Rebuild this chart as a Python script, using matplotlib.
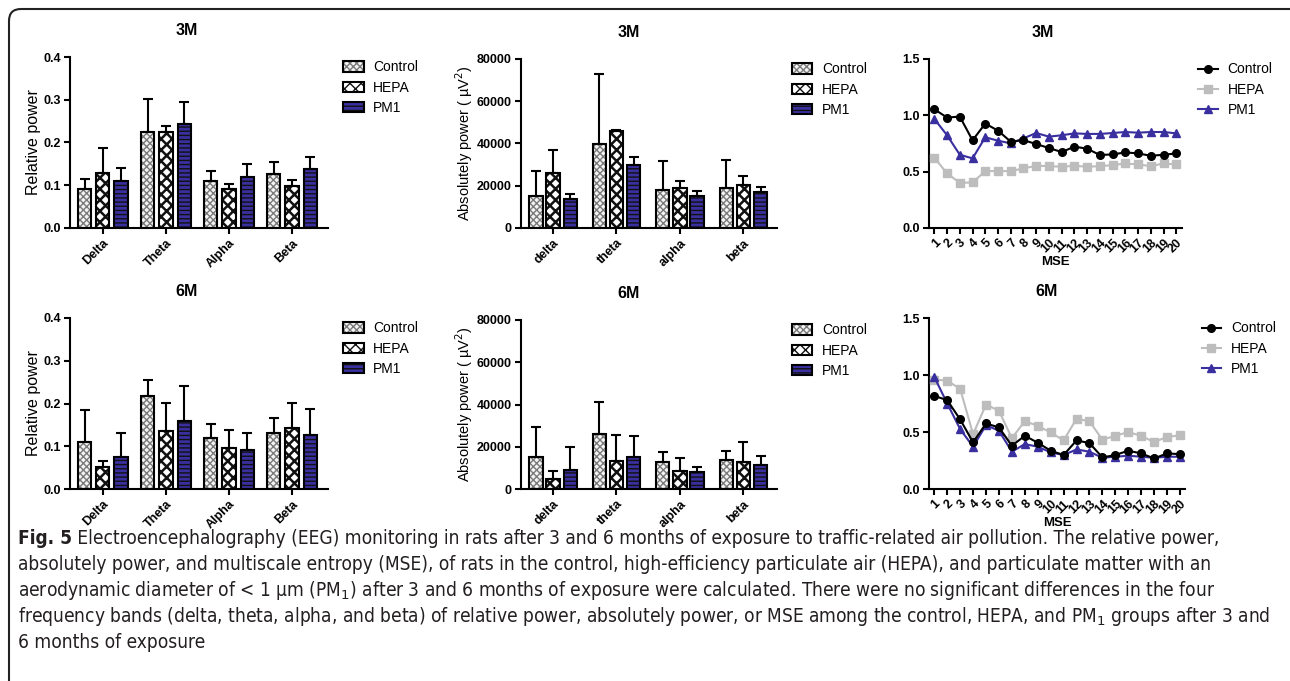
import numpy as np
import matplotlib
matplotlib.use("Agg")
import matplotlib.pyplot as plt
from matplotlib import font_manager as fm
from matplotlib.patches import FancyBboxPatch, Patch
from matplotlib.transforms import IdentityTransform

# ---- data ----
series = ["Control", "HEPA", "PM1"]
bands_rel = ["Delta", "Theta", "Alpha", "Beta"]
bands_abs = ["delta", "theta", "alpha", "beta"]
scales = np.arange(1, 21)

# relative power, 3 months (mean, upper error)
rel3_mean = [[0.091, 0.224, 0.110, 0.126],
             [0.128, 0.225, 0.092, 0.099],
             [0.111, 0.243, 0.120, 0.138]]
rel3_err = [[0.023, 0.077, 0.023, 0.028],
            [0.060, 0.014, 0.011, 0.014],
            [0.030, 0.052, 0.029, 0.029]]

# relative power, 6 months
rel6_mean = [[0.111, 0.217, 0.120, 0.132],
             [0.051, 0.135, 0.096, 0.142],
             [0.075, 0.158, 0.091, 0.126]]
rel6_err = [[0.073, 0.037, 0.031, 0.033],
            [0.014, 0.067, 0.043, 0.060],
            [0.055, 0.082, 0.041, 0.060]]

# absolute power, 3 months
abs3_mean = [[15000, 39700, 18100, 19000],
             [26000, 46000, 19000, 20500],
             [13900, 29800, 15000, 17000]]
abs3_err = [[11800, 33200, 13400, 13100],
            [10900, 300, 3400, 4200],
            [2300, 3900, 2300, 2200]]

# absolute power, 6 months
abs6_mean = [[15300, 26000, 12900, 13900],
             [4600, 13300, 8500, 12600],
             [9000, 15000, 7900, 11200]]
abs6_err = [[14100, 15000, 4800, 4100],
            [3900, 12100, 6300, 9700],
            [10900, 10100, 2700, 4600]]

# multiscale entropy
mse3_control = [1.054, 0.980, 0.989, 0.778, 0.927, 0.864, 0.766, 0.780, 0.745, 0.710,
                0.674, 0.722, 0.704, 0.648, 0.653, 0.671, 0.662, 0.641, 0.650, 0.662]
mse3_hepa = [0.624, 0.484, 0.401, 0.404, 0.505, 0.505, 0.505, 0.529, 0.552, 0.549,
             0.544, 0.552, 0.544, 0.549, 0.558, 0.573, 0.564, 0.549, 0.573, 0.564]
mse3_pm1 = [0.968, 0.823, 0.650, 0.618, 0.805, 0.775, 0.751, 0.796, 0.843, 0.811,
            0.823, 0.840, 0.835, 0.835, 0.843, 0.852, 0.846, 0.852, 0.852, 0.840]

mse6_control = [0.817, 0.779, 0.610, 0.409, 0.575, 0.540, 0.379, 0.467, 0.406, 0.336,
                0.298, 0.426, 0.403, 0.277, 0.298, 0.336, 0.312, 0.268, 0.312, 0.306]
mse6_hepa = [0.960, 0.951, 0.878, 0.481, 0.741, 0.686, 0.446, 0.595, 0.554, 0.496,
             0.426, 0.616, 0.595, 0.432, 0.467, 0.499, 0.467, 0.411, 0.458, 0.470]
mse6_pm1 = [0.983, 0.750, 0.525, 0.371, 0.560, 0.511, 0.327, 0.394, 0.371, 0.321,
            0.298, 0.347, 0.327, 0.274, 0.283, 0.292, 0.283, 0.274, 0.283, 0.283]

caption_lines = [
    " Electroencephalography (EEG) monitoring in rats after 3 and 6 months of exposure to traffic-related air pollution. The relative power,",
    "absolutely power, and multiscale entropy (MSE), of rats in the control, high-efficiency particulate air (HEPA), and particulate matter with an",
    "aerodynamic diameter of < 1 µm (PM$_1$) after 3 and 6 months of exposure were calculated. There were no significant differences in the four",
    "frequency bands (delta, theta, alpha, and beta) of relative power, absolutely power, or MSE among the control, HEPA, and PM$_1$ groups after 3 and",
    "6 months of exposure",
]

# ---- styling ----
fonts = fm.fontManager.ttflist
cap_stretch = "normal"
if any(f.name == "Liberation Sans Narrow" for f in fonts):
    cap_font = "Liberation Sans Narrow"
elif any(f.name == "DejaVu Sans" and f.stretch == "condensed" for f in fonts):
    cap_font, cap_stretch = "DejaVu Sans", "condensed"
else:
    cap_font = "Liberation Sans"

plt.rcParams["font.family"] = ["Liberation Sans", "DejaVu Sans"]
plt.rcParams["mathtext.fontset"] = "custom"
plt.rcParams["mathtext.rm"] = cap_font
plt.rcParams["hatch.linewidth"] = 1.0

blue = "#3a2f9e"
bar_face = ["#f4f4f4", "#ffffff", blue]
bar_hatchc = ["#7a7a7a", "#111111", "#111111"]
bar_hatch = ["xxxxx", "xxx", "----"]
hatch_lw = [1.0, 1.8, 1.0]
line_col = ["black", "#bdbdbd", blue]
line_mk = ["o", "s", "^"]
line_z = [5, 3, 4]

W, H = 1290, 681
fig = plt.figure(figsize=(W / 100, H / 100), dpi=100)


def px_axes(l, r, t, b):
    return fig.add_axes([l / W, 1 - b / H, (r - l) / W, (b - t) / H])


def style_axes(ax):
    for s in ["top", "right"]:
        ax.spines[s].set_visible(False)
    for s in ["left", "bottom"]:
        ax.spines[s].set_linewidth(1.5)
    ax.tick_params(direction="out", length=4, width=1.5, labelsize=9, pad=2.5)
    for lab in ax.get_yticklabels():
        lab.set_fontweight("bold")


def bar_panel(ax, title, tx, ylabel, ysize, groups, means, errs, ymax, ystep, fmt, xlim, off):
    x = np.arange(len(groups))
    handles = []
    for i in range(3):
        xs = x + (i - 1) * off
        with plt.rc_context({"hatch.linewidth": hatch_lw[i]}):
            ax.bar(xs, means[i], 0.21, color=bar_face[i], edgecolor=bar_hatchc[i],
                   hatch=bar_hatch[i], linewidth=0, zorder=2)
            fill_h = Patch(facecolor=bar_face[i], edgecolor=bar_hatchc[i],
                           hatch=bar_hatch[i], linewidth=0)
        ax.bar(xs, means[i], 0.21, fill=False, edgecolor="black", linewidth=1.5, zorder=3)
        ax.errorbar(xs, means[i], yerr=[np.zeros(len(groups)), errs[i]], fmt="none",
                    ecolor="black", elinewidth=1.5, capsize=3.5, capthick=1.5, zorder=4)
        handles.append((fill_h, Patch(fill=False, edgecolor="black", linewidth=1.5)))
    ticks = np.arange(0, ymax + ystep / 2, ystep)
    ax.set_xlim(*xlim)
    ax.set_ylim(0, ymax)
    ax.set_yticks(ticks)
    ax.set_yticklabels([fmt.format(v) for v in ticks])
    ax.set_xticks(x)
    ax.set_xticklabels(groups, rotation=45, ha="right", rotation_mode="anchor",
                       fontweight="bold", fontsize=9)
    ax.set_ylabel(ylabel, fontsize=ysize, labelpad=1.5)
    ax.set_title(title, fontweight="bold", fontsize=11.5, pad=16, x=tx)
    style_axes(ax)
    ax.legend(handles, series, loc="upper left", bbox_to_anchor=(1.06, 0.98), frameon=False,
              fontsize=10, borderpad=0, borderaxespad=0, handlelength=1.45, handleheight=0.75,
              handletextpad=0.7, labelspacing=0.45)


def line_panel(ax, title, tx, data, xlim):
    for i in range(3):
        ax.plot(scales, data[i], color=line_col[i], marker=line_mk[i], lw=1.5, ms=5.5,
                label=series[i], zorder=line_z[i])
    ax.set_xlim(*xlim)
    ax.set_ylim(0, 1.5)
    ax.set_yticks([0, 0.5, 1.0, 1.5])
    ax.set_yticklabels(["0.0", "0.5", "1.0", "1.5"])
    ax.set_xticks(scales)
    ax.set_xticklabels([str(s) for s in scales], rotation=45, ha="right",
                       rotation_mode="anchor", fontweight="bold", fontsize=9)
    ax.set_xlabel("MSE", fontweight="bold", fontsize=9.5, labelpad=0)
    ax.set_title(title, fontweight="bold", fontsize=11.5, pad=16, x=tx)
    style_axes(ax)
    ax.legend(loc="upper left", bbox_to_anchor=(1.065, 0.98), frameon=False, fontsize=10,
              borderpad=0, borderaxespad=0, handlelength=1.4, handletextpad=0.7,
              labelspacing=0.45)


ab_label = "Absolutely power ( µV$^2$)"

ax1 = px_axes(70, 328, 57, 228)
bar_panel(ax1, "3M", 0.453, "Relative power", 11.5, bands_rel, rel3_mean, rel3_err,
          0.4, 0.1, "{:.1f}", (-0.52, 3.57), 0.29)
ax2 = px_axes(521, 777, 59, 228)
bar_panel(ax2, "3M", 0.42, ab_label, 10.5, bands_abs, abs3_mean, abs3_err,
          80000, 20000, "{:.0f}", (-0.505, 3.53), 0.27)
ax3 = px_axes(929, 1182, 59, 228)
line_panel(ax3, "3M", 0.448, [mse3_control, mse3_hepa, mse3_pm1], (0.58, 20.45))

ax4 = px_axes(70, 328, 318, 489)
bar_panel(ax4, "6M", 0.453, "Relative power", 11.5, bands_rel, rel6_mean, rel6_err,
          0.4, 0.1, "{:.1f}", (-0.52, 3.57), 0.29)
ax5 = px_axes(521, 777, 320, 489)
bar_panel(ax5, "6M", 0.42, ab_label, 10.5, bands_abs, abs6_mean, abs6_err,
          80000, 20000, "{:.0f}", (-0.505, 3.53), 0.27)
ax6 = px_axes(929, 1185, 318, 489)
line_panel(ax6, "6M", 0.458, [mse6_control, mse6_hepa, mse6_pm1], (0.59, 20.39))

# outer frame, rounded top-left, running off the bottom and right edges
frame = FancyBboxPatch((9, -100), 1400, 681 - 9 + 100, boxstyle="round,pad=0,rounding_size=12",
                       fill=False, edgecolor="#222222", linewidth=1.5,
                       transform=IdentityTransform())
fig.add_artist(frame)

# caption: size the font so the longest line spans the same width as in the figure
cap_kw = dict(family=[cap_font, "DejaVu Sans"], fontstretch=cap_stretch,
              color="#231f20", va="center")
probe = fig.text(0, 0, caption_lines[3], fontsize=12.5, **cap_kw)
fig.canvas.draw()
cap_kw["fontsize"] = 12.5 * 1250 / probe.get_window_extent().width
probe.remove()

t0 = fig.text(18 / W, 1 - 539 / H, "Fig. 5", fontweight="bold", **cap_kw)
fig.canvas.draw()
bb = t0.get_window_extent()
fig.text(bb.x1 / W, 1 - 539 / H, caption_lines[0], **cap_kw)
for k, line in enumerate(caption_lines[1:]):
    fig.text(18 / W, 1 - (565 + 26 * k) / H, line, **cap_kw)

fig.savefig("out.png", dpi=100)
